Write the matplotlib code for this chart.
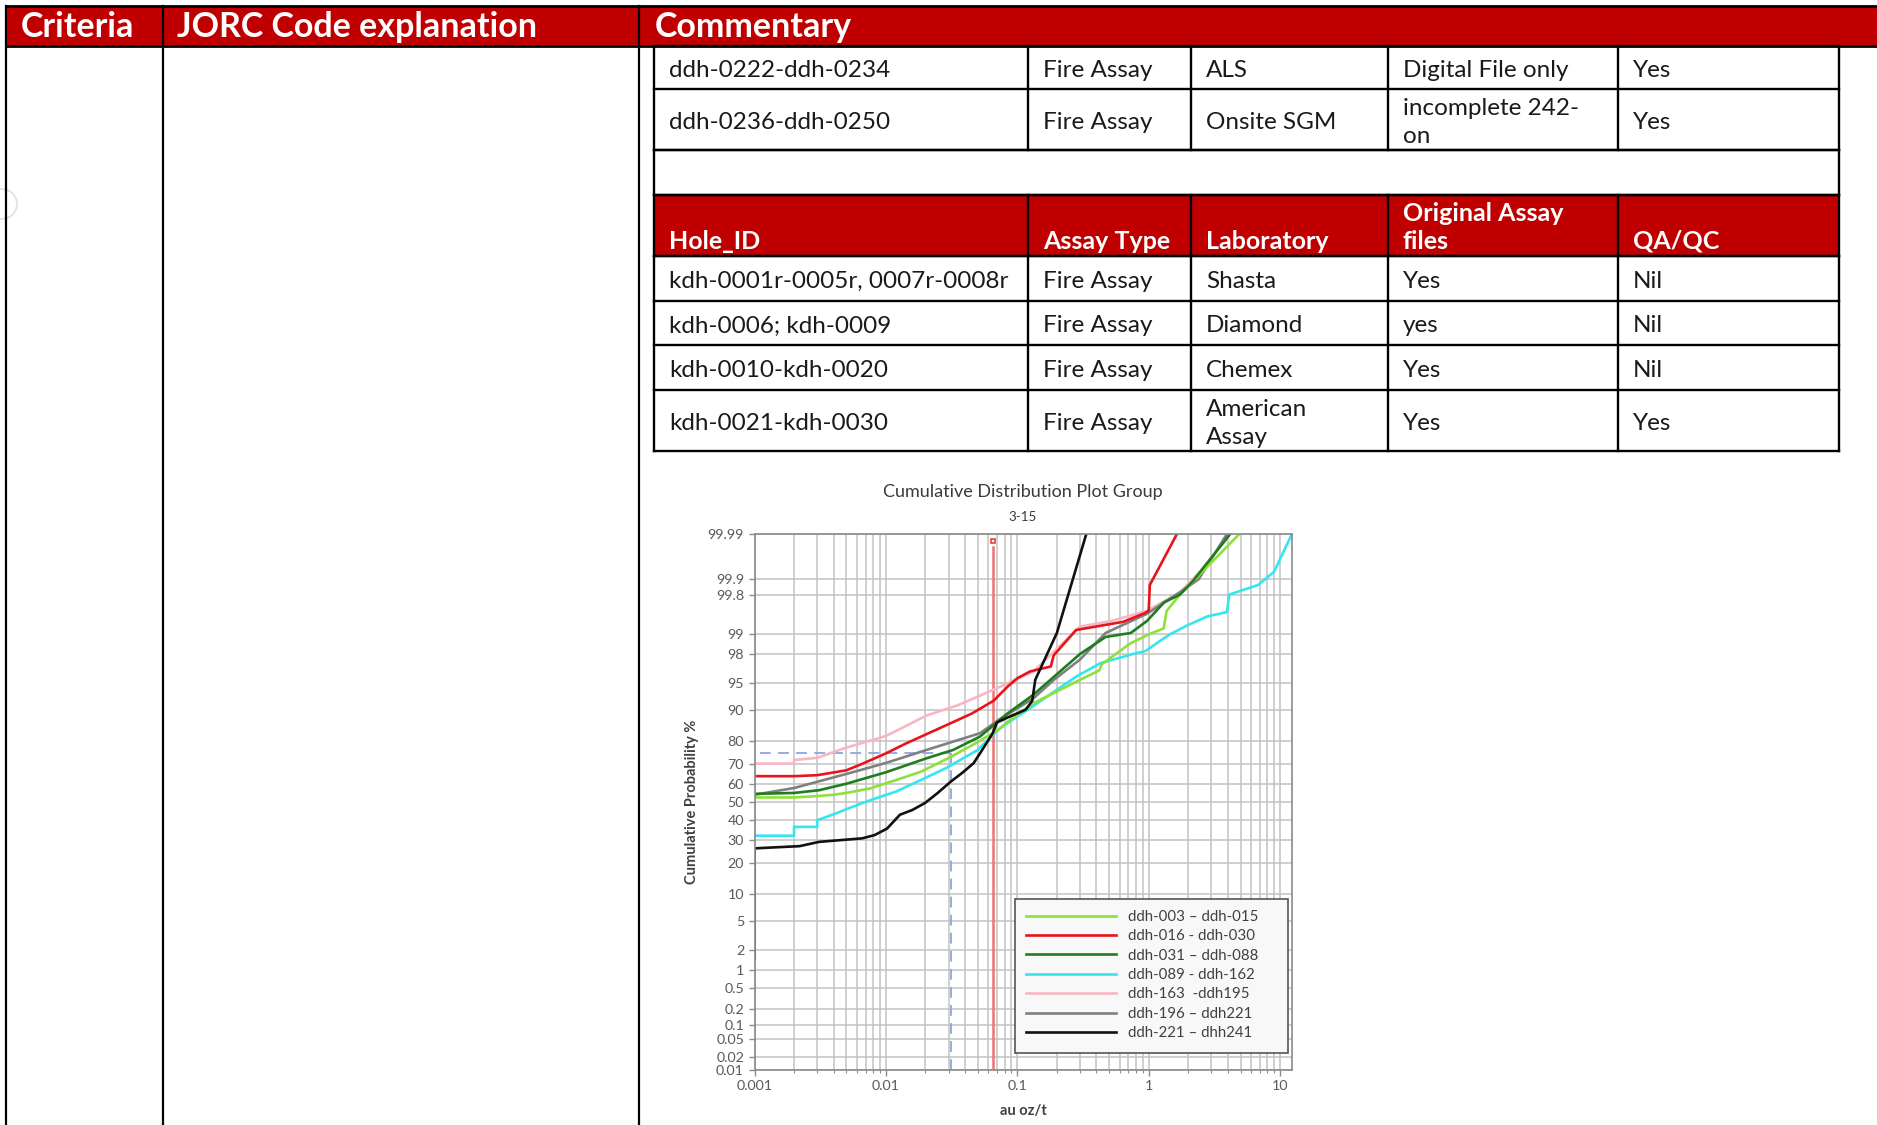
import numpy as np
import matplotlib
matplotlib.use("Agg")
import matplotlib.pyplot as plt
from matplotlib.patches import Rectangle, Circle
from matplotlib.ticker import FixedLocator, LogLocator, NullFormatter
from statistics import NormalDist

plt.rcParams['font.family'] = ['Lato', 'DejaVu Sans']

W, H = 1877, 1125
RED = '#c00000'
INK = '#1a1a1a'

# ---------------- table content ----------------
outer_headers = ['Criteria', 'JORC Code explanation', 'Commentary']
top_rows = [
    ['ddh-0222-ddh-0234', 'Fire Assay', 'ALS', 'Digital File only', 'Yes'],
    ['ddh-0236-ddh-0250', 'Fire Assay', 'Onsite SGM', 'incomplete 242-\non', 'Yes'],
]
inner_headers = ['Hole_ID', 'Assay Type', 'Laboratory', 'Original Assay\nfiles', 'QA/QC']
bottom_rows = [
    ['kdh-0001r-0005r, 0007r-0008r', 'Fire Assay', 'Shasta', 'Yes', 'Nil'],
    ['kdh-0006; kdh-0009', 'Fire Assay', 'Diamond', 'yes', 'Nil'],
    ['kdh-0010-kdh-0020', 'Fire Assay', 'Chemex', 'Yes', 'Nil'],
    ['kdh-0021-kdh-0030', 'Fire Assay', 'American\nAssay', 'Yes', 'Yes'],
]

# ---------------- chart data (au oz/t, cumulative %) ----------------
labels = ['ddh-003 \u2013 ddh-015', 'ddh-016 - ddh-030', 'ddh-031 \u2013 ddh-088',
          'ddh-089 - ddh-162', 'ddh-163  -ddh195', 'ddh-196 \u2013 ddh221',
          'ddh-221 \u2013 dhh241']
colors = ['#8ee03a', '#e8141b', '#1e7d1e', '#33e6f0', '#f7b7c2', '#808080', '#111111']

lime_x = [0.001, 0.002, 0.003, 0.004, 0.005, 0.0076, 0.012, 0.0185, 0.025, 0.0325,
          0.052, 0.0737, 0.083, 0.133, 0.3, 0.42, 0.44, 0.72, 1.0, 1.3, 1.37, 1.73, 4.9]
lime_p = [52.5, 52.5, 53.3, 54, 55, 57.5, 62, 66.3, 70.5, 74,
          80.2, 84.5, 86.5, 91.5, 95.5, 96.6, 97.2, 98.6, 99.0, 99.2, 99.6, 99.8, 99.99]

red_x = [0.001, 0.002, 0.003, 0.005, 0.0065, 0.01, 0.014, 0.02, 0.03, 0.045, 0.066,
         0.084, 0.1, 0.125, 0.18, 0.189, 0.28, 0.64, 0.93, 1.0, 1.02, 1.64]
red_p = [64, 64, 64.5, 67, 70, 75, 79, 82.5, 86, 89, 92,
         94.5, 95.7, 96.5, 97, 97.9, 99.15, 99.38, 99.56, 99.6, 99.87, 99.99]

dkgreen_x = [0.001, 0.002, 0.0031, 0.005, 0.01, 0.0204, 0.0325, 0.052, 0.084, 0.133,
             0.3, 0.47, 0.73, 0.97, 1.31, 1.73, 2.16, 4.17]
dkgreen_p = [54.5, 55, 56.5, 60, 66, 72.8, 76.5, 81.8, 89, 93.2,
             98, 98.9, 99.05, 99.4, 99.72, 99.8, 99.89, 99.99]

cyan_x = [0.001, 0.002, 0.002, 0.003, 0.003, 0.0042, 0.0052, 0.0076, 0.0119, 0.0185,
          0.0285, 0.05, 0.0737, 0.133, 0.28, 0.43, 0.76, 0.95, 1.2, 1.45, 2.0, 2.8,
          3.94, 4.1, 6.8, 9.0, 12.3]
cyan_p = [32, 32, 36.5, 36.5, 40, 43.8, 46.5, 51, 55.7, 62,
          68, 76.5, 84.7, 90.9, 95.9, 97.3, 98.0, 98.2, 98.7, 99.0, 99.3, 99.5,
          99.58, 99.8, 99.87, 99.93, 99.99]

pink_x = [0.001, 0.002, 0.002, 0.003, 0.005, 0.01, 0.0204, 0.035, 0.052, 0.0737,
          0.133, 0.187, 0.3, 0.52, 0.97, 1.73, 2.46, 4.17]
pink_p = [70.3, 70.3, 72, 73, 77.5, 82, 88.5, 91, 93, 94.5,
          96.5, 98.1, 99.25, 99.4, 99.6, 99.82, 99.93, 99.99]

gray_x = [0.001, 0.002, 0.0053, 0.01, 0.0204, 0.0325, 0.052, 0.0737, 0.133, 0.19,
          0.3, 0.47, 0.97, 1.73, 2.4, 3.94]
gray_p = [54, 57.7, 65.6, 70.6, 76.5, 79.9, 83, 87.5, 92.5, 95.5,
          97.6, 99.05, 99.55, 99.82, 99.9, 99.99]

black_x = [0.001, 0.001, 0.0022, 0.0031, 0.0066, 0.0082, 0.0102, 0.0128, 0.0159, 0.0199,
           0.0248, 0.031, 0.0386, 0.0465, 0.052, 0.065, 0.07, 0.085, 0.116, 0.13,
           0.137, 0.2, 0.335]
black_p = [1.5, 26, 27, 29, 30.7, 32.3, 35.6, 43, 45.6, 49.5,
           55, 61, 66, 70.5, 75, 83, 86.5, 88, 90, 92,
           95.5, 99.05, 99.99]

series_x = [lime_x, red_x, dkgreen_x, cyan_x, pink_x, gray_x, black_x]
series_p = [lime_p, red_p, dkgreen_p, cyan_p, pink_p, gray_p, black_p]

prob_ticks = [0.01, 0.02, 0.05, 0.1, 0.2, 0.5, 1, 2, 5, 10, 20, 30, 40, 50, 60, 70,
              80, 90, 95, 98, 99, 99.8, 99.9, 99.99]
prob_labels = ['0.01', '0.02', '0.05', '0.1', '0.2', '0.5', '1', '2', '5', '10', '20',
               '30', '40', '50', '60', '70', '80', '90', '95', '98', '99', '99.8',
               '99.9', '99.99']
x_ticks = [0.001, 0.01, 0.1, 1, 10]
x_labels = ['0.001', '0.01', '0.1', '1', '10']

cutoff_x = 0.0315   # blue dashed reference
cutoff_p = 75
red_ref_x = 0.065   # red vertical reference


# ---------------- page / table ----------------
fig = plt.figure(figsize=(W / 100, H / 100), dpi=100)
page = fig.add_axes([0, 0, 1, 1])
page.set_xlim(0, W)
page.set_ylim(H, 0)
page.axis('off')

outer_x = [6, 163, 639]
page.add_patch(Rectangle((6, 6), W - 6, 39, color=RED, lw=0))
page.plot([6, W], [6, 6], color='black', lw=2)
page.plot([6, W], [45.5, 45.5], color='black', lw=2)
for x in outer_x:
    page.plot([x, x], [6, H], color='black', lw=1.6)
for x, t in zip([21, 177, 655], outer_headers):
    page.text(x, 27, t, color='white', fontsize=24.5, fontweight='bold',
              va='center', ha='left')

# faint scan mark at the left edge
page.add_patch(Circle((2, 204), 15, fill=False, ec='#e2e2e2', lw=1.3))

inner_x = [654, 1028, 1191, 1388, 1618, 1839]
top_y = [46, 89, 150]
blank_y = [150, 195]
head_y = [195, 256]
bot_y = [256, 301, 345, 390, 451]

page.add_patch(Rectangle((inner_x[0], head_y[0]), inner_x[-1] - inner_x[0],
                         head_y[1] - head_y[0], color=RED, lw=0))

lw_in = 1.7
for y in top_y + blank_y + head_y + bot_y:
    page.plot([inner_x[0], inner_x[-1]], [y, y], color='black', lw=lw_in,
              solid_capstyle='projecting')
page.plot([inner_x[0], inner_x[0]], [top_y[0], bot_y[-1]], color='black', lw=lw_in)
page.plot([inner_x[-1], inner_x[-1]], [top_y[0], bot_y[-1]], color='black', lw=lw_in)
for x in inner_x[1:-1]:
    page.plot([x, x], [top_y[0], top_y[-1]], color='black', lw=lw_in)
    page.plot([x, x], [head_y[0], bot_y[-1]], color='black', lw=lw_in)


def fill_rows(rows, ys):
    for r, row in enumerate(rows):
        yc = (ys[r] + ys[r + 1]) / 2 + 3
        for c, txt in enumerate(row):
            page.text(inner_x[c] + 15, yc, txt, color=INK, fontsize=17.5,
                      va='center', ha='left', linespacing=1.45)


fill_rows(top_rows, top_y)
fill_rows(bottom_rows, bot_y)
for c, txt in enumerate(inner_headers):
    page.text(inner_x[c] + 15, head_y[1] - 3, txt, color='white', fontsize=18,
              fontweight='bold', va='bottom', ha='left', linespacing=1.28)

# ---------------- chart ----------------
nd = NormalDist()
_ppf = np.vectorize(lambda v: nd.inv_cdf(v / 100.0), otypes=[float])
_cdf = np.vectorize(lambda v: nd.cdf(v) * 100.0, otypes=[float])


def prob_fwd(p):
    p = np.clip(np.asarray(p, dtype=float), 1e-7, 100 - 1e-7)
    return _ppf(p)


def prob_inv(z):
    return _cdf(np.asarray(z, dtype=float))


ax_l, ax_r, ax_t, ax_b = 754.5, 1292, 534, 1070
aw, ah = ax_r - ax_l, ax_b - ax_t
ax = fig.add_axes([ax_l / W, 1 - ax_b / H, aw / W, ah / H])
ax.set_xscale('log')
ax.set_yscale('function', functions=(prob_fwd, prob_inv))
ax.set_xlim(0.001, 12.32)
ax.set_ylim(0.01, 99.99)

ax.yaxis.set_major_locator(FixedLocator(prob_ticks))
ax.set_yticklabels(prob_labels)
ax.yaxis.set_minor_locator(FixedLocator([]))
ax.set_xticks(x_ticks)
ax.set_xticklabels(x_labels)
ax.xaxis.set_minor_locator(LogLocator(base=10, subs=np.arange(2, 10)))
ax.xaxis.set_minor_formatter(NullFormatter())

ax.grid(True, which='both', color='#c2c2c2', lw=1.1)
ax.set_axisbelow(True)
for s in ax.spines.values():
    s.set_color('#8a8a8a')
    s.set_linewidth(1.2)
ax.tick_params(which='major', length=4, width=1, color='#8a8a8a',
               labelcolor='#5a5a5a', labelsize=10.3)
ax.tick_params(which='minor', length=2.5, width=0.8, color='#8a8a8a')

# reference lines
ax.plot([0.0011, cutoff_x], [cutoff_p, cutoff_p], color='#8ea6e0', lw=1.3, ls=(0, (6, 4)))
ax.plot([cutoff_x, cutoff_x], [0.01, cutoff_p], color='#8ea6e0', lw=1.3, ls=(0, (6, 4)))
ax.plot([red_ref_x, red_ref_x], [0.01, 99.98], color='#f07373', lw=1.8)
ax.plot([red_ref_x], [99.985], marker='s', ms=3.5, mfc='white', mec='#e04545', mew=1.2,
        clip_on=False)

order = [4, 5, 3, 0, 2, 1, 6]
handles = {}
for i in order:
    ln, = ax.plot(series_x[i], series_p[i], color=colors[i], lw=1.9,
                  label=labels[i], solid_joinstyle='round')
    handles[i] = ln

# legend box drawn separately so its right margin matches the original
lg_l, lg_r, lg_t, lg_b = 1015, 1288, 899, 1053
ax.add_patch(Rectangle(((lg_l - ax_l) / aw, (ax_b - lg_b) / ah), (lg_r - lg_l) / aw,
                       (lg_b - lg_t) / ah, transform=ax.transAxes, fc='#f8f8f8',
                       ec='#555555', lw=1.2, zorder=4))
leg = ax.legend([handles[i] for i in range(7)], labels, loc='upper left',
                bbox_to_anchor=((lg_l - ax_l) / aw, (ax_b - lg_t) / ah),
                borderaxespad=0, fontsize=10.8, handlelength=6.0, handletextpad=0.8,
                labelspacing=0.36, borderpad=0.72, frameon=False)
leg.set_zorder(5)
for t in leg.get_texts():
    t.set_color('#404040')

ax.set_ylabel('Cumulative Probability %', fontsize=10.5, fontweight='bold', color='#404040')
ax.yaxis.set_label_coords((699 - ax_l) / aw, 0.5)
ax.set_xlabel('au oz/t', fontsize=10.5, fontweight='bold', color='#404040')
ax.xaxis.set_label_coords(0.5, (ax_b - 1104) / ah)

page.text(1023, 492, 'Cumulative Distribution Plot Group', fontsize=13,
          color='#3a3a3a', ha='center', va='center')
page.text(1023, 517, '3-15', fontsize=9.5, color='#3a3a3a', ha='center', va='center')

fig.savefig('out.png', dpi=100)
